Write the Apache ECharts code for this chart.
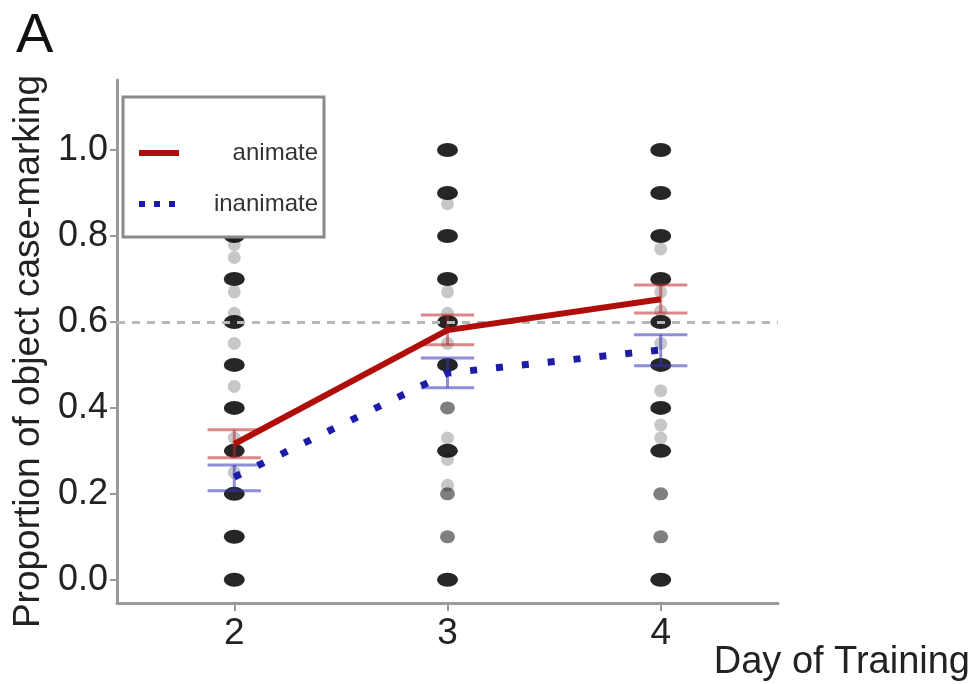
<!DOCTYPE html>
<html>
<head>
<meta charset="utf-8"/>
<title>Day of Training</title>
<script type="text/javascript" src="https://cdn.jsdelivr.net/npm/echarts@6/dist/echarts.min.js"></script>
<style type="text/css">
	body{
		margin: 0px;
		padding: 0px;
		background: #fff;
	}
	#chart{
		width: 975px;
		height: 684px;
	}
</style>
</head>
<body>
	<div id="chart"></div>
<script type="text/javascript">
	// days
	var days = [2, 3, 4];
	var yTicks = [0, 0.2, 0.4, 0.6, 0.8, 1.0];

	// mean and error bars
	var animateMean = [0.316, 0.581, 0.653];
	var animateLow = [0.284, 0.547, 0.621];
	var animateHigh = [0.349, 0.616, 0.686];
	var inanimateMean = [0.239, 0.481, 0.535];
	var inanimateLow = [0.207, 0.447, 0.498];
	var inanimateHigh = [0.267, 0.516, 0.570];
	var chance = 0.6;

	// individual proportions, by day
	var day2Dark = [0, 0.1, 0.2, 0.3, 0.4, 0.5, 0.6, 0.7, 0.8, 0.9, 1.0];
	var day2Mid = [];
	var day2Light = [0.25, 0.33, 0.45, 0.55, 0.62, 0.67, 0.75, 0.78];
	var day3Dark = [0, 0.3, 0.5, 0.6, 0.7, 0.8, 0.9, 1.0];
	var day3Mid = [0.1, 0.2, 0.4];
	var day3Light = [0.22, 0.28, 0.33, 0.55, 0.62, 0.67, 0.875];
	var day4Dark = [0, 0.3, 0.4, 0.5, 0.6, 0.7, 0.8, 0.9, 1.0];
	var day4Mid = [0.1, 0.2];
	var day4Light = [0.33, 0.36, 0.44, 0.55, 0.625, 0.67, 0.77];

	var font = 'Liberation Sans, Arial, sans-serif';

	function pts(day, vals){
		var out = [];
		for(var i=0;i<vals.length;i++){
			out.push([day, vals[i]]);
		}
		return out;
	}
	function pair(x, y){
		var out = [];
		for(var i=0;i<x.length;i++){
			out.push([x[i], y[i]]);
		}
		return out;
	}
	function bars(lo, hi){
		var out = [];
		for(var i=0;i<days.length;i++){
			out.push([days[i], lo[i], hi[i]]);
		}
		return out;
	}
	// error bar
	function errorBar(color){
		return function(params, api){
			var x = api.value(0);
			var lo = api.coord([x, api.value(1)]);
			var hi = api.coord([x, api.value(2)]);
			var half = api.size([0.25, 0])[0] / 2;
			var st = {stroke: color, lineWidth: 3};
			return {
				type: 'group',
				children: [
					{type: 'line', shape: {x1: lo[0], y1: lo[1], x2: hi[0], y2: hi[1]}, style: st},
					{type: 'line', shape: {x1: lo[0]-half, y1: lo[1], x2: lo[0]+half, y2: lo[1]}, style: st},
					{type: 'line', shape: {x1: hi[0]-half, y1: hi[1], x2: hi[0]+half, y2: hi[1]}, style: st}
				]
			};
		};
	}

	var dark = pts(2, day2Dark).concat(pts(3, day3Dark), pts(4, day4Dark));
	var mid = pts(2, day2Mid).concat(pts(3, day3Mid), pts(4, day4Mid));
	var light = pts(2, day2Light).concat(pts(3, day3Light), pts(4, day4Light));

	var myChart = echarts.init(document.getElementById('chart'));
	var option = {
		animation: false,
		grid: {
			left: 117,
			right: 197,
			top: 80,
			bottom: 81
		},
		xAxis: {
			type: 'value',
			min: 1.45,
			max: 4.55,
			splitLine: {show: false},
			axisLine: {show: true, onZero: false, lineStyle: {color: '#9a9a9a', width: 3}},
			axisTick: {show: true, customValues: days, length: 8, lineStyle: {color: '#9a9a9a', width: 2}},
			axisLabel: {customValues: days, margin: 12, color: '#222', fontSize: 37, fontFamily: font}
		},
		yAxis: {
			type: 'value',
			min: -0.054,
			max: 1.163,
			name: 'Proportion of object case-marking',
			nameLocation: 'middle',
			nameGap: 62,
			nameTextStyle: {color: '#222', fontSize: 37, fontFamily: font, padding: [0, 20, 0, 0]},
			splitLine: {show: false},
			axisLine: {show: true, onZero: false, lineStyle: {color: '#9a9a9a', width: 3}},
			axisTick: {show: true, customValues: yTicks, length: 7, lineStyle: {color: '#9a9a9a', width: 2}},
			axisLabel: {
				customValues: yTicks,
				margin: 9,
				color: '#222',
				fontSize: 36,
				fontFamily: font,
				formatter: function(v){ return v.toFixed(1); }
			}
		},
		legend: {
			left: 123,
			top: 97,
			orient: 'vertical',
			data: [
				{name: 'animate', itemStyle: {opacity: 0, borderWidth: 0}, lineStyle: {width: 6, type: 'solid'}},
				{name: 'inanimate', itemStyle: {opacity: 0, borderWidth: 0}, lineStyle: {width: 6, type: [6, 9]}}
			],
			backgroundColor: '#fff',
			borderColor: '#8a8a8a',
			borderWidth: 3,
			borderRadius: 0,
			padding: [44, 6, 21, 13],
			itemWidth: 40,
			itemHeight: 26,
			itemGap: 27,
			formatter: '{r|{name}}',
			textStyle: {
				rich: {
					r: {width: 134, align: 'right', fontSize: 24, color: '#333', fontFamily: font}
				}
			}
		},
		graphic: [
			{type: 'text', left: 16, top: 9, style: {text: 'A', font: '56px ' + font, fill: '#111'}},
			{type: 'text', right: 5, top: 644, style: {text: 'Day of Training', font: '38px ' + font, fill: '#222'}}
		],
		series: [
			{
				name: 'light',
				type: 'scatter',
				symbolSize: 13,
				itemStyle: {color: '#000', opacity: 0.22},
				data: light,
				z: 1,
				markLine: {
					silent: true,
					symbol: 'none',
					label: {show: false},
					lineStyle: {color: '#b8b8b8', width: 3, type: [8, 7]},
					data: [{yAxis: chance}]
				}
			},
			{
				name: 'mid',
				type: 'scatter',
				symbolSize: [15, 13],
				itemStyle: {color: '#000', opacity: 0.5},
				data: mid,
				z: 1
			},
			{
				name: 'dark',
				type: 'scatter',
				symbolSize: [21, 14],
				itemStyle: {color: '#000', opacity: 0.85},
				data: dark,
				z: 1
			},
			{
				name: 'animate bars',
				type: 'custom',
				renderItem: errorBar('rgba(185,40,40,0.55)'),
				data: bars(animateLow, animateHigh),
				z: 3
			},
			{
				name: 'inanimate bars',
				type: 'custom',
				renderItem: errorBar('rgba(50,50,190,0.55)'),
				data: bars(inanimateLow, inanimateHigh),
				z: 3
			},
			{
				name: 'inanimate',
				type: 'line',
				symbol: 'none',
				color: '#1c1ca8',
				lineStyle: {color: '#1c1ca8', width: 7, type: [7, 19]},
				data: pair(days, inanimateMean),
				z: 4
			},
			{
				name: 'animate',
				type: 'line',
				symbol: 'none',
				color: '#b00e0a',
				lineStyle: {color: '#b00e0a', width: 6},
				data: pair(days, animateMean),
				z: 5
			}
		]
	};
	myChart.setOption(option);
</script>
</body>
</html>
